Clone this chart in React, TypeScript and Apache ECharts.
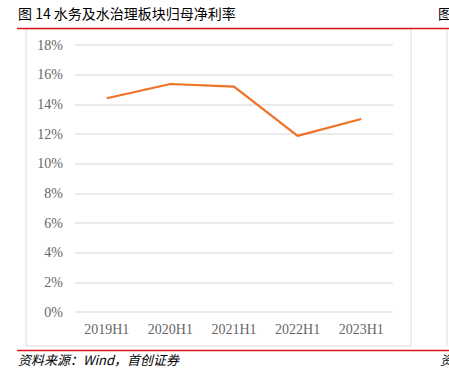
import React, { useEffect, useRef } from "react";
import * as echarts from "echarts";

const categories = ["2019H1", "2020H1", "2021H1", "2022H1", "2023H1"];
const netMargin = [14.41, 15.37, 15.19, 11.87, 13.01];
const titleText = "图 14 水务及水治理板块归母净利率";
const sourceText = "资料来源：Wind，首创证券";

export default function App() {
  const ref = useRef<HTMLDivElement>(null);
  useEffect(() => {
    if (!ref.current) return;
    const chart = echarts.init(ref.current, null, { renderer: "svg" });
    chart.setOption({
      animation: false,
      backgroundColor: "#ffffff",
      grid: { left: 75, right: 56, top: 45, bottom: 58 },
      xAxis: {
        type: "category",
        data: categories,
        boundaryGap: true,
        axisLine: { show: false },
        axisTick: { show: false },
        axisLabel: {
          color: "#666666",
          fontFamily: "Liberation Serif",
          fontSize: 14,
          margin: 10,
        },
      },
      yAxis: {
        type: "value",
        min: 0,
        max: 18,
        interval: 2,
        axisLine: { show: false },
        axisTick: { show: false },
        splitLine: { lineStyle: { color: "#e3e3e3", width: 1.5 } },
        axisLabel: {
          color: "#666666",
          fontFamily: "Liberation Serif",
          fontSize: 14,
          margin: 12,
          formatter: "{value}%",
        },
      },
      series: [
        {
          type: "line",
          data: netMargin,
          symbol: "none",
          lineStyle: { color: "#EF7124", width: 2.2 },
        },
      ],
      graphic: [
        {
          type: "text",
          left: 18,
          top: 6,
          style: {
            text: titleText,
            fill: "#000000",
            font: '14px "Noto Sans CJK SC"',
          },
        },
        {
          type: "text",
          left: 438,
          top: 6,
          style: {
            text: "图",
            fill: "#000000",
            font: '14px "Noto Sans CJK SC"',
          },
        },
        {
          type: "rect",
          shape: { x: 26, y: 29, width: 385, height: 317 },
          style: { fill: "none", stroke: "#dcdcdc", lineWidth: 1 },
          silent: true,
        },
        {
          type: "line",
          shape: { x1: 447, y1: 29, x2: 447, y2: 346 },
          style: { stroke: "#dcdcdc", lineWidth: 1 },
        },
        {
          type: "line",
          shape: { x1: 17, y1: 28.5, x2: 449, y2: 28.5 },
          style: { stroke: "#d9161c", lineWidth: 1.5 },
        },
        {
          type: "line",
          shape: { x1: 17, y1: 350.5, x2: 449, y2: 350.5 },
          style: { stroke: "#d9161c", lineWidth: 1.5 },
        },
        {
          type: "text",
          left: 18,
          top: 353,
          style: {
            text: sourceText,
            fill: "#000000",
            font: 'italic 13px "Noto Sans CJK SC"',
          },
        },
        {
          type: "text",
          left: 440,
          top: 353,
          style: {
            text: "资",
            fill: "#000000",
            font: 'italic 13px "Noto Sans CJK SC"',
          },
        },
      ],
    });
    return () => chart.dispose();
  }, []);
  return (
    <div
      ref={ref}
      style={{ position: "absolute", left: 0, top: 0, width: 449, height: 370 }}
    />
  );
}
